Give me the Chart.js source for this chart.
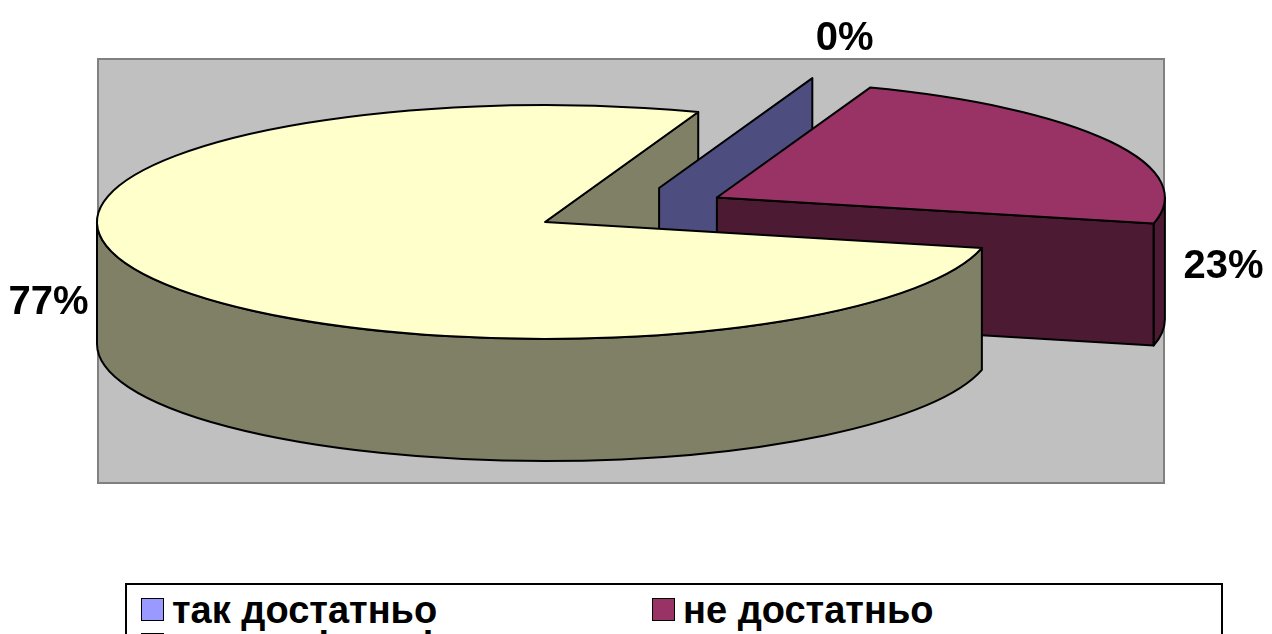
<!DOCTYPE html>
<html>
<head>
<meta charset="utf-8">
<script src="https://cdn.jsdelivr.net/npm/chart.js@4/dist/chart.umd.min.js"></script>
<style>
  body { margin: 0; background: #fff; overflow: hidden; }
  #wrap { position: relative; width: 1272px; height: 634px; overflow: hidden; }
  #chart-3d { position: absolute; left: 0; top: 0; }
  #legend {
    position: absolute; left: 125px; top: 583px; width: 1098px; height: 120px;
    border: 2px solid #000; background: #fff; box-sizing: border-box;
    font: bold 38px "Liberation Sans", Arial, sans-serif; color: #000;
  }
  .item { position: absolute; height: 30px; line-height: 30px; white-space: nowrap; }
  .item span.box {
    position: absolute; left: 0; top: 3px; width: 21px; height: 21px;
    border: 1.5px solid #000;
  }
  .item span.txt { position: absolute; left: 31px; top: 0; }
</style>
</head>
<body>
<div id="wrap">
  <canvas id="chart-3d" width="1272" height="634"></canvas>
  <div id="legend"></div>
</div>
<script>
const categories = ['так достатньо', 'не достатньо', 'важко відповісти'];
const shares = [0, 23, 77];
const sliceColors = ['#9999FF', '#993366', '#FFFFCC'];

function darken(hex, k) {
  const n = parseInt(hex.slice(1), 16);
  const r = Math.round(((n >> 16) & 255) * k);
  const g = Math.round(((n >> 8) & 255) * k);
  const b = Math.round((n & 255) * k);
  return `rgb(${r},${g},${b})`;
}

// fake 3d pie: chart.js gives the angles and centre, we extrude an ellipse from them
const pie3d = {
  id: 'pie3d',
  beforeDraw(chart, args, opts) {
    const ctx = chart.ctx;
    const f = opts.frame;
    ctx.save();
    ctx.fillStyle = '#C0C0C0';
    ctx.fillRect(f.left, f.top, f.right - f.left, f.bottom - f.top);
    ctx.strokeStyle = '#808080';
    ctx.lineWidth = 2;
    ctx.strokeRect(f.left, f.top, f.right - f.left, f.bottom - f.top);
    ctx.restore();
  },
  beforeDatasetsDraw(chart, args, opts) {
    const ctx = chart.ctx;
    const arcs = chart.getDatasetMeta(0).data;
    const R = arcs[0].outerRadius;
    const rx = R * opts.stretchX, ry = R * opts.squashY, D = R * opts.depth;
    const colors = chart.data.datasets[0].backgroundColor;

    const slices = arcs.map((arc, i) => {
      const a0 = arc.startAngle, a1 = arc.endAngle, m = (a0 + a1) / 2;
      const [al, ac] = opts.explode[i];
      const nx = al * Math.cos(m) + ac * Math.cos(m + Math.PI / 2);
      const ny = al * Math.sin(m) + ac * Math.sin(m + Math.PI / 2);
      return { i, a0, a1, m, ex: Math.hypot(al, ac), cx: arc.x + nx * rx, cy: arc.y + ny * ry, color: colors[i] };
    });
    chart.$pie3d = { slices, rx, ry, D };

    const byDepth = slices.slice().sort((p, q) => Math.sin(p.m) - Math.sin(q.m));
    const byExplode = slices.slice().sort((p, q) => p.ex - q.ex || Math.sin(p.m) - Math.sin(q.m));

    ctx.save();
    ctx.lineWidth = 2;
    ctx.strokeStyle = '#000';
    ctx.lineJoin = 'round';

    const face = (s, a) => {
      const px = s.cx + rx * Math.cos(a), py = s.cy + ry * Math.sin(a);
      ctx.beginPath();
      ctx.moveTo(s.cx, s.cy);
      ctx.lineTo(px, py);
      ctx.lineTo(px, py + D);
      ctx.lineTo(s.cx, s.cy + D);
      ctx.closePath();
      ctx.fillStyle = darken(s.color, 0.5);
      ctx.fill();
      ctx.stroke();
    };

    // radial faces: the body first, pulled-out slices after
    byExplode.forEach(s => {
      if (Math.cos(s.a0) < 0 && s.a1 - s.a0 > 1e-6) face(s, s.a0);
      if (Math.cos(s.a1) > 0) face(s, s.a1);
    });
    // outer walls, only the front half shows
    byDepth.forEach(s => {
      for (let k = -1; k <= 2; k++) {
        const lo = Math.max(s.a0, 2 * Math.PI * k), hi = Math.min(s.a1, 2 * Math.PI * k + Math.PI);
        if (hi - lo < 1e-6) continue;
        ctx.beginPath();
        ctx.ellipse(s.cx, s.cy, rx, ry, 0, lo, hi, false);
        ctx.ellipse(s.cx, s.cy + D, rx, ry, 0, hi, lo, true);
        ctx.closePath();
        ctx.fillStyle = darken(s.color, 0.5);
        ctx.fill();
        ctx.stroke();
      }
    });
    // tops
    byDepth.forEach(s => {
      if (s.a1 - s.a0 < 1e-6) return;
      ctx.beginPath();
      ctx.moveTo(s.cx, s.cy);
      ctx.ellipse(s.cx, s.cy, rx, ry, 0, s.a0, s.a1, false);
      ctx.closePath();
      ctx.fillStyle = s.color;
      ctx.fill();
      ctx.stroke();
    });
    ctx.restore();
    return false;
  },
  afterDraw(chart, args, opts) {
    const p = chart.$pie3d;
    if (!p) return;
    const ctx = chart.ctx;
    const values = chart.data.datasets[0].data;
    ctx.save();
    ctx.font = 'bold 40px "Liberation Sans", Arial, sans-serif';
    ctx.fillStyle = '#000';
    ctx.textAlign = 'center';
    ctx.textBaseline = 'middle';
    p.slices.forEach(s => {
      const x = s.cx + opts.labelRadius * p.rx * Math.cos(s.m) + opts.labelDx[s.i];
      const y = s.cy + opts.labelRadius * p.ry * Math.sin(s.m) + opts.labelDy[s.i];
      ctx.fillText(values[s.i] + '%', x, y);
    });
    ctx.restore();
  }
};

new Chart(document.getElementById('chart-3d'), {
  type: 'pie',
  data: {
    labels: categories,
    datasets: [{
      data: shares,
      backgroundColor: sliceColors,
      borderWidth: 0
    }]
  },
  options: {
    responsive: false,
    animation: false,
    rotation: 20,
    layout: { padding: { left: 97, right: 279, top: 0, bottom: 190 } },
    plugins: {
      legend: { display: false },
      tooltip: { enabled: false },
      pie3d: {
        stretchX: 448 / 222,
        squashY: 117 / 222,
        depth: 122 / 222,
        explode: [[0.36, 0.14], [0.437, 0], [0, 0]],
        labelRadius: 1.27,
        labelDx: [-9, 7, 3],
        labelDy: [-9, 141, 10],
        frame: { left: 98, top: 59, right: 1164, bottom: 483 }
      }
    }
  },
  plugins: [pie3d]
});

// legend box like the excel one, two columns
const legend = document.getElementById('legend');
const cols = [14, 525];
categories.forEach((name, i) => {
  const it = document.createElement('div');
  it.className = 'item';
  it.style.left = cols[i % 2] + 'px';
  it.style.top = (10 + Math.floor(i / 2) * 35) + 'px';
  it.innerHTML = `<span class="box" style="background:${sliceColors[i]}"></span><span class="txt">${name}</span>`;
  legend.appendChild(it);
});
</script>
</body>
</html>
